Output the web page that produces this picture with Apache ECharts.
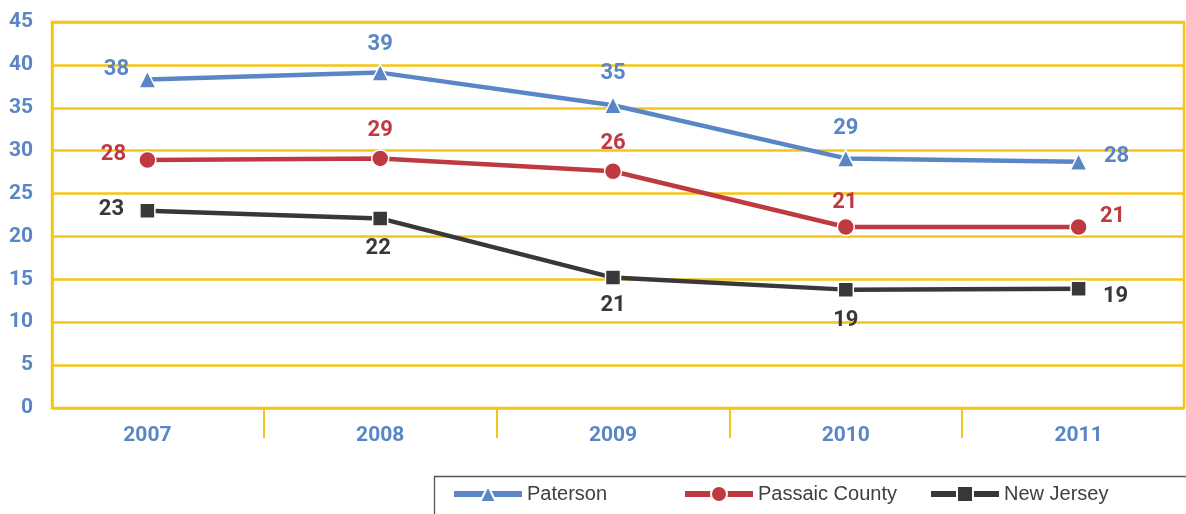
<!DOCTYPE html>
<html>
<head>
<meta charset="utf-8">
<script src="https://cdn.jsdelivr.net/npm/echarts@6/dist/echarts.min.js"></script>
<style>html,body{margin:0;padding:0;background:#fff}#c{width:1186px;height:514px}</style>
</head>
<body>
<div id="c"></div>
<script>
var categories = ['2007', '2008', '2009', '2010', '2011'];
var yTicks = [0, 45, 5];
var patersonValues = [38.3, 39.1, 35.3, 29.1, 28.7];
var passaicValues = [28.9, 29.1, 27.6, 21.1, 21.1];
var newJerseyValues = [23.0, 22.1, 15.2, 13.8, 13.9];
var patersonLabels = ['38', '39', '35', '29', '28'];
var passaicLabels = ['28', '29', '26', '21', '21'];
var newJerseyLabels = ['23', '22', '21', '19', '19'];

// label placement (layout only)
var patersonOffsets = [[-31, -10], [0, -28], [0, -32], [0, -30], [38, -5]];
var passaicOffsets = [[-34, -6], [0, -28], [0, -28], [-1, -25], [34, -11]];
var newJerseyOffsets = [[-36, -1], [-2, 30], [0, 28], [0, 31], [37, 8]];

var YELLOW = '#F4C514';
var BLUE = '#5A86C5';
var RED = '#BF3A40';
var DARK = '#383838';
var NUMFONT = 'Roboto';

function build(values, labels, offsets) {
  return values.map(function (v, i) {
    return { value: v, label: { offset: offsets[i], formatter: labels[i] } };
  });
}

function lineSeries(name, values, labels, offsets, color, symbol, size) {
  return {
    name: name,
    type: 'line',
    xAxisIndex: 1,
    yAxisIndex: 1,
    data: build(values, labels, offsets),
    symbol: symbol,
    symbolSize: size,
    lineStyle: { color: color, width: 4.5 },
    itemStyle: { color: color, borderColor: '#fff', borderWidth: 1.5 },
    label: {
      show: true,
      position: 'inside',
      color: color,
      fontFamily: NUMFONT,
      fontWeight: 'bold',
      fontSize: 22
    },
    emphasis: { disabled: true },
    z: 3
  };
}

var chart = echarts.init(document.getElementById('c'), null, { renderer: 'canvas' });
var legendText = { fontFamily: 'Liberation Sans', fontSize: 20, color: '#404040' };
function legendAt(name, left) {
  return {
    data: [name], left: left, top: 484, itemWidth: 68, itemHeight: 20,
    itemGap: 0, textStyle: legendText, selectedMode: false, padding: 0,
    lineStyle: { width: 6 }
  };
}

chart.setOption({
  animation: false,
  backgroundColor: '#fff',
  grid: [
    { left: 52, right: 2, top: 22, bottom: 106, show: true, borderColor: YELLOW, borderWidth: 2.5, backgroundColor: 'transparent', outerBoundsMode: 'none' },
    { left: 31, width: 1164, top: 22, bottom: 106, outerBoundsMode: 'none' }
  ],
  xAxis: [
    { type: 'category', gridIndex: 0, data: categories, axisLine: { show: false }, axisTick: { show: false }, axisLabel: { show: false }, splitLine: { show: false } },
    {
      type: 'category', gridIndex: 1, data: categories, boundaryGap: true,
      axisLine: { show: false },
      axisTick: { show: true, length: 30, lineStyle: { color: YELLOW, width: 2 }, interval: function (i) { return i > 0; } },
      axisLabel: { color: BLUE, fontFamily: NUMFONT, fontWeight: 'bold', fontSize: 21, margin: 17 },
      splitLine: { show: false }
    }
  ],
  yAxis: [
    {
      type: 'value', gridIndex: 0, min: yTicks[0], max: yTicks[1], interval: yTicks[2],
      axisLine: { show: true, lineStyle: { color: YELLOW, width: 2.5 } },
      axisTick: { show: false },
      axisLabel: { color: BLUE, fontFamily: NUMFONT, fontWeight: 'bold', fontSize: 21, margin: 19 },
      splitLine: { show: true, lineStyle: { color: YELLOW, width: 2.5 } }
    },
    { type: 'value', gridIndex: 1, min: yTicks[0], max: yTicks[1], show: false }
  ],
  legend: [
    legendAt('Paterson', 451),
    legendAt('Passaic County', 682),
    legendAt('New Jersey', 928)
  ],
  graphic: [
    { type: 'rect', left: 432, top: 474, shape: { width: 770, height: 60 }, style: { fill: 'none', stroke: '#555', lineWidth: 1.3 }, silent: true }
  ],
  series: [
    lineSeries('Paterson', patersonValues, patersonLabels, patersonOffsets, BLUE, 'triangle', 17),
    lineSeries('Passaic County', passaicValues, passaicLabels, passaicOffsets, RED, 'circle', 17),
    lineSeries('New Jersey', newJerseyValues, newJerseyLabels, newJerseyOffsets, DARK, 'rect', 15)
  ]
});
</script>
</body>
</html>
